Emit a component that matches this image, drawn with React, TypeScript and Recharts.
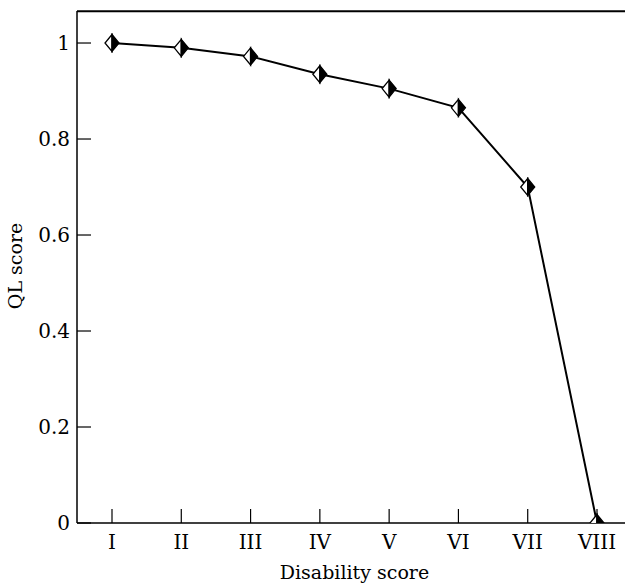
import React from 'react';
import { LineChart, Line, XAxis, YAxis, Label, ReferenceLine } from 'recharts';

const categories = ['I', 'II', 'III', 'IV', 'V', 'VI', 'VII', 'VIII'];
const qlScores = [1.0, 0.99, 0.972, 0.935, 0.905, 0.865, 0.7, 0.0];
const yTicks = [0, 0.2, 0.4, 0.6, 0.8, 1];
const yTickLabels = ['0', '0.2', '0.4', '0.6', '0.8', '1'];
const yMax = 1.0667;
const frameTop = 1.066;

const FONT = '"DejaVu Serif", serif';

const data = categories.map((c, i) => ({ name: c, ql: qlScores[i] }));

function HalfDiamond(props: any) {
  const { cx, cy } = props;
  if (cx == null || cy == null) return null;
  const w = 7;
  const h = 8.5;
  return (
    <g>
      <polygon points={`${cx},${cy - h} ${cx - w},${cy} ${cx},${cy + h}`} fill="#fff" stroke="#000" strokeWidth={1.3} />
      <polygon points={`${cx},${cy - h} ${cx + w},${cy} ${cx},${cy + h}`} fill="#000" stroke="#000" strokeWidth={1.3} />
    </g>
  );
}

function YTick(props: any) {
  const { x, y, payload } = props;
  const idx = yTicks.indexOf(payload.value);
  return (
    <g>
      <line x1={x} y1={y} x2={x + 14} y2={y} stroke="#000" strokeWidth={1.2} />
      <text x={x - 7} y={y + 7} textAnchor="end" fontFamily={FONT} fontSize={20} fill="#000">
        {idx >= 0 ? yTickLabels[idx] : payload.value}
      </text>
    </g>
  );
}

function XTick(props: any) {
  const { x, y, payload } = props;
  return (
    <g>
      <line x1={x} y1={y} x2={x} y2={y - 14} stroke="#000" strokeWidth={1.2} />
      <text x={x} y={y + 26} textAnchor="middle" fontFamily={FONT} fontSize={20} fill="#000">
        {payload.value}
      </text>
    </g>
  );
}

export default function App() {
  return (
    <div style={{ position: 'absolute', left: 0, top: 0, width: 625, height: 586, overflow: 'hidden', background: '#fff' }}>
      <LineChart width={640} height={586} data={data} margin={{ top: 11, right: 8, bottom: 33, left: 17 }}>
        <XAxis
          dataKey="name"
          padding={{ left: 35, right: 35 }}
          tick={<XTick />}
          tickLine={false}
          tickSize={0}
          tickMargin={0}
          height={30}
          axisLine={{ stroke: '#000', strokeWidth: 1.5 }}
          interval={0}
        >
          <Label value="Disability score" position="bottom" offset={13} style={{ fontFamily: FONT, fontSize: 19, fill: '#000' }} />
        </XAxis>
        <YAxis
          type="number"
          domain={[0, yMax]}
          ticks={yTicks}
          tick={<YTick />}
          tickLine={false}
          tickSize={0}
          tickMargin={0}
          width={60}
          allowDataOverflow
          axisLine={{ stroke: '#000', strokeWidth: 1.5 }}
        >
          <Label
            content={() => (
              <text x={15} y={266} transform="rotate(-90 15 266)" textAnchor="middle" dominantBaseline="central" fontFamily={FONT} fontSize={19} fill="#000">
                QL score
              </text>
            )}
          />
        </YAxis>
        <ReferenceLine y={frameTop} stroke="#000" strokeWidth={2} ifOverflow="visible" />
        <Line type="linear" dataKey="ql" stroke="#000" strokeWidth={2} dot={<HalfDiamond />} activeDot={false} isAnimationActive={false} />
      </LineChart>
    </div>
  );
}
